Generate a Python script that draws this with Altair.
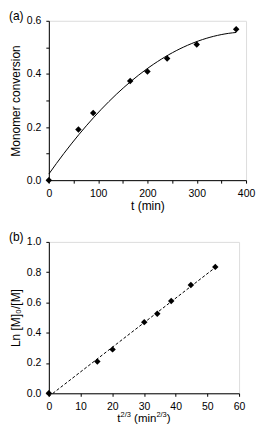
import altair as alt
import pandas as pd

# Panel (a): monomer conversion vs time
t_min = [0, 60, 90, 165, 200, 240, 300, 380]
conversion = [0.0, 0.191, 0.253, 0.373, 0.409, 0.458, 0.511, 0.568]

# Panel (b): ln([M]0/[M]) vs t^(2/3)
t23 = [0.0, 15.3, 20.1, 30.1, 34.2, 38.6, 44.8, 52.5]
ln_ratio = [0.0, 0.21, 0.29, 0.47, 0.525, 0.61, 0.715, 0.835]

a_yticks = [0, 0.1, 0.2, 0.3, 0.4, 0.5, 0.6]
a_xticks = [0, 50, 100, 150, 200, 250, 300, 350, 400]
b_yticks = [0, 0.2, 0.4, 0.6, 0.8, 1.0]
b_xticks = [0, 10, 20, 30, 40, 50, 60]

FONT = "Liberation Sans"
WA, HA = 198, 160
WB, HB = 191, 152

df_a = pd.DataFrame({"t": t_min, "conv": conversion})
df_b = pd.DataFrame({"x": t23, "y": ln_ratio})

axis_common = dict(
    domainColor="black", tickColor="black", tickSize=3, grid=False,
    labelFont=FONT, labelFontSize=10.5, labelColor="black",
    titleFont=FONT, titleFontSize=12, titleFontWeight="normal", titleColor="black",
    labelFlush=False, labelOverlap=False, labelPadding=5,
)

# ---------- Panel (a)
xa = alt.X("t:Q", scale=alt.Scale(domain=[0, 400], nice=False),
           axis=alt.Axis(title="t (min)", values=a_xticks,
                         labelExpr="round(datum.value) % 100 == 0 ? datum.label : ''",
                         titlePadding=2, **axis_common))
ya = alt.Y("conv:Q", scale=alt.Scale(domain=[0, 0.6], nice=False),
           axis=alt.Axis(title="Monomer conversion", values=a_yticks, format=".1f",
                         labelExpr="round(datum.value*10) % 2 == 0 ? datum.label : ''",
                         titlePadding=4, **axis_common))

base_a = alt.Chart(df_a)
pts_a = base_a.mark_point(shape="diamond", filled=True, color="black", size=42, opacity=1).encode(x=xa, y=ya)
fit_a = base_a.transform_regression("t", "conv", method="poly", order=2, extent=[0, 380]).mark_line(
    color="black", strokeWidth=1).encode(x=xa, y=ya)
lab_a = alt.Chart(pd.DataFrame({"lab": ["(a)"]})).mark_text(
    align="left", baseline="top", font=FONT, fontSize=12, color="black").encode(
    x=alt.value(-40), y=alt.value(-10), text="lab:N")
panel_a = alt.layer(fit_a, pts_a, lab_a).properties(width=WA, height=HA)

# ---------- Panel (b)
xb = alt.X("x:Q", scale=alt.Scale(domain=[0, 60], nice=False),
           axis=alt.Axis(title=None, values=b_xticks, **axis_common))
yb = alt.Y("y:Q", scale=alt.Scale(domain=[0, 1.0], nice=False),
           axis=alt.Axis(title="Ln [M]₀/[M]", values=b_yticks, format=".1f",
                         titlePadding=4, **axis_common))

base_b = alt.Chart(df_b)
pts_b = base_b.mark_point(shape="diamond", filled=True, color="black", size=42, opacity=1).encode(x=xb, y=yb)
fit_b = base_b.transform_regression("x", "y", method="linear", extent=[0, 52.5]).mark_line(
    color="black", strokeWidth=1, strokeDash=[3, 2]).encode(x=xb, y=yb)
lab_b = alt.Chart(pd.DataFrame({"lab": ["(b)"]})).mark_text(
    align="left", baseline="top", font=FONT, fontSize=12, color="black").encode(
    x=alt.value(-40), y=alt.value(-10), text="lab:N")

# x-axis title of (b) with real superscripts: t^(2/3) (min^(2/3))
MAIN, SUP = 11.5, 7.5
base_y = HB + 29
sup_y = base_y - 5
start = WB / 2 - 26.7
pieces = [
    ("t", MAIN, start, base_y),
    ("2/3", SUP, start + 3.2, sup_y),
    ("(min", MAIN, start + 3.2 + 10.4 + 3.2, base_y),
    ("2/3", SUP, start + 3.2 + 10.4 + 25.6, sup_y),
    (")", MAIN, start + 3.2 + 10.4 + 25.6 + 10.4, base_y),
]
title_marks = []
for txt, fs, px, py in pieces:
    title_marks.append(
        alt.Chart(pd.DataFrame({"s": [txt]})).mark_text(
            align="left", baseline="alphabetic", font=FONT, fontSize=fs, color="black"
        ).encode(x=alt.value(px), y=alt.value(py), text="s:N")
    )

panel_b = alt.layer(fit_b, pts_b, lab_b, *title_marks).properties(width=WB, height=HB)

chart = alt.vconcat(panel_a, panel_b, spacing=18).properties(
    padding={"left": 0, "top": 0, "right": 0, "bottom": 0}
).configure_view(stroke=None).configure_axis(labelOverlap=False).configure(background="white")

chart.save("out.html", embed_options={"renderer": "svg", "actions": False})
